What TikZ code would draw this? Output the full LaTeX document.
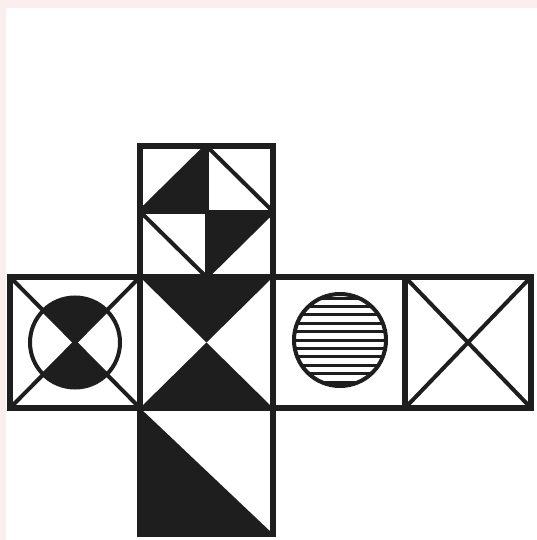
\documentclass[tikz,border=0pt]{standalone}
\definecolor{edgepink}{RGB}{250,239,238}
\definecolor{ink}{RGB}{30,30,30}
\tikzset{
  cellframe/.style={draw=ink, line width=6pt, line join=miter},
  thinline/.style={draw=ink, line width=4pt},
  blackfill/.style={fill=ink},
}
\begin{document}
\begin{tikzpicture}[x=1pt,y=-1pt]
\useasboundingbox (0,0) rectangle (537,540);
\fill[edgepink] (0,0) rectangle (537,540);
\fill[white] (6,8) rectangle (537,540);
% coordinates
\coordinate (tTL) at (140,146); \coordinate (tTR) at (273,146);
\coordinate (mL0) at (10,277); \coordinate (mA) at (140,277); \coordinate (mB) at (273,277);
\coordinate (mC) at (405,277); \coordinate (mR0) at (531,277);
\coordinate (bL0) at (10,408); \coordinate (bA) at (140,408); \coordinate (bB) at (273,408);
\coordinate (bC) at (405,408); \coordinate (bR0) at (531,408);
\coordinate (zA) at (140,534); \coordinate (zB) at (273,534);
% top cell fills
\fill[blackfill] (206.5,146) -- (140,211.5) -- (206.5,211.5) -- cycle;
\fill[blackfill] (206.5,211.5) -- (273,211.5) -- (206.5,277) -- cycle;
\draw[thinline] (206.5,146) -- (206.5,277);
\draw[thinline] (140,211.5) -- (273,211.5);
\draw[thinline, line join=miter] (206.5,146) -- (273,211.5) -- (206.5,277) -- (140,211.5) -- cycle;
% left cell
\begin{scope}
\clip (75,342.5) circle (45);
\fill[blackfill] (mL0) -- (mA) -- (75,342.5) -- cycle;
\fill[blackfill] (bL0) -- (bA) -- (75,342.5) -- cycle;
\end{scope}
\draw[thinline] (75,342.5) circle (45);
\draw[thinline] (mL0) -- (bA);
\draw[thinline] (bL0) -- (mA);
% middle cell
\fill[blackfill] (mA) -- (mB) -- (206.5,342.5) -- cycle;
\fill[blackfill] (bA) -- (bB) -- (206.5,342.5) -- cycle;
% hatched circle
\begin{scope}
\clip (340,340) circle (46);
\foreach \k in {-5,...,5} {
  \draw[ink, line width=3pt] (290,340+\k*8.4) -- (390,340+\k*8.4);
}
\end{scope}
\draw[ink, line width=4pt] (340,340) circle (46);
% far right
\draw[thinline] (mC) -- (bR0);
\draw[thinline] (bC) -- (mR0);
% bottom cell
\fill[blackfill] (bA) -- (zA) -- (zB) -- cycle;
% frames
\draw[cellframe] (tTL) rectangle (mB);
\draw[cellframe] (mL0) rectangle (bA);
\draw[cellframe] (mA) rectangle (bB);
\draw[cellframe] (mB) rectangle (bC);
\draw[cellframe] (mC) rectangle (bR0);
\draw[cellframe] (bA) rectangle (zB);
\end{tikzpicture}
\end{document}
